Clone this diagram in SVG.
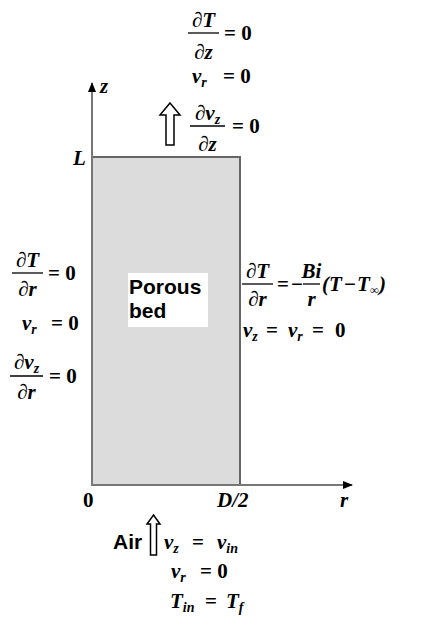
<svg xmlns="http://www.w3.org/2000/svg" width="442" height="625" viewBox="0 0 442 625">
<defs>
<style>
.m{font-family:"Liberation Serif","Times New Roman",serif;font-weight:bold;font-style:italic;font-size:21px;fill:#000}
.n{font-style:normal}
.s{font-size:14px}
.a{font-family:"Liberation Sans",Arial,sans-serif;font-weight:bold;font-size:21px;fill:#000}
.bar{stroke:#000;stroke-width:1.3}
.ax{stroke:#777;stroke-width:2;fill:none}
.ha{fill:#fff;stroke:#000;stroke-width:1.5}
</style>
<marker id="ah" markerWidth="10" markerHeight="8" refX="9" refY="4" orient="auto" markerUnits="userSpaceOnUse">
<path d="M0,0 L10,4 L0,8 Z" fill="#000"/>
</marker>
</defs>
<rect width="442" height="625" fill="#fff"/>
<g id="bed">
<rect x="92" y="157" width="148" height="328" fill="#dcdcdc" stroke="#666" stroke-width="2"/>
<rect x="128" y="273" width="80" height="54" fill="#fff"/>
<text class="a" x="129" y="294">Porous</text>
<text class="a" x="129" y="318">bed</text>
</g>
<g id="connectors">
<line class="ax" x1="92" y1="486" x2="92" y2="83" marker-end="url(#ah)"/>
<line class="ax" x1="91" y1="485" x2="352" y2="485" marker-end="url(#ah)"/>
<path class="ha" d="M170,103 L180,115 L174,115 L174,145 L166,145 L166,115 L160,115 Z"/>
<path class="ha" d="M153.5,515 L160,524 L156.5,524 L156.5,555 L150.5,555 L150.5,524 L147,524 Z"/>
</g>
<g id="axis-labels">
<text class="m" x="100" y="93">z</text>
<text class="m" x="73" y="165">L</text>
<text class="m n" x="83" y="507">0</text>
<text class="m" x="217" y="507">D/2</text>
<text class="m" x="340" y="507">r</text>
</g>
<g id="top-bc">
<text class="m" x="203.5" y="27" text-anchor="middle">∂T</text>
<line class="bar" x1="188" y1="33" x2="219" y2="33"/>
<text class="m" x="203.5" y="59" text-anchor="middle">∂z</text>
<text class="m n" x="224" y="40">= 0</text>
<text class="m" x="192" y="83">v<tspan class="s" dy="4">r</tspan><tspan class="n" x="223" dy="-4">= 0</tspan></text>
<text class="m" x="207.5" y="120" text-anchor="middle">∂v<tspan class="s" dy="4">z</tspan></text>
<line class="bar" x1="190" y1="126" x2="225" y2="126"/>
<text class="m" x="207.5" y="151" text-anchor="middle">∂z</text>
<text class="m n" x="232" y="133">= 0</text>
</g>
<g id="left-bc">
<text class="m" x="27.5" y="267" text-anchor="middle">∂T</text>
<line class="bar" x1="12" y1="273" x2="43" y2="273"/>
<text class="m" x="27.5" y="296" text-anchor="middle">∂r</text>
<text class="m n" x="48" y="280">= 0</text>
<text class="m" x="22" y="330">v<tspan class="s" dy="4">r</tspan><tspan class="n" x="51" dy="-4">= 0</tspan></text>
<text class="m" x="26.5" y="369" text-anchor="middle">∂v<tspan class="s" dy="4">z</tspan></text>
<line class="bar" x1="10" y1="376" x2="43" y2="376"/>
<text class="m" x="26.5" y="399" text-anchor="middle">∂r</text>
<text class="m n" x="49" y="383">= 0</text>
</g>
<g id="right-bc">
<text class="m" x="257.5" y="278" text-anchor="middle">∂T</text>
<line class="bar" x1="242" y1="284" x2="273" y2="284"/>
<text class="m" x="257.5" y="306" text-anchor="middle">∂r</text>
<text class="m n" x="277" y="291">=</text>
<text class="m n" x="291" y="291">−</text>
<text class="m" x="311.5" y="278" text-anchor="middle">Bi</text>
<line class="bar" x1="303" y1="284" x2="320" y2="284"/>
<text class="m" x="311.5" y="306" text-anchor="middle">r</text>
<text class="m" x="322" y="291">(T<tspan class="n" x="344">−</tspan><tspan x="357">T</tspan><tspan class="n" x="370" dy="3" font-size="12">∞</tspan><tspan x="379" dy="-3">)</tspan></text>
<text class="m" x="243" y="337">v<tspan class="s" dy="4">z</tspan><tspan class="n" x="266" dy="-4">=</tspan><tspan x="288">v</tspan><tspan class="s" dy="4">r</tspan><tspan class="n" x="312" dy="-4">=</tspan><tspan class="n" x="335">0</tspan></text>
</g>
<g id="bottom-bc">
<text class="a" x="113" y="549">Air</text>
<text class="m" x="164" y="549">v<tspan class="s" dy="4">z</tspan><tspan class="n" x="192" dy="-4">=</tspan><tspan x="217">v</tspan><tspan class="s" dy="4">in</tspan></text>
<text class="m" x="171" y="578">v<tspan class="s" dy="4">r</tspan><tspan class="n" x="200" dy="-4">= 0</tspan></text>
<text class="m" x="170" y="608">T<tspan class="s" dy="4">in</tspan><tspan class="n" x="205" dy="-4">=</tspan><tspan x="226">T</tspan><tspan class="s" dy="4">f</tspan></text>
</g>
</svg>
